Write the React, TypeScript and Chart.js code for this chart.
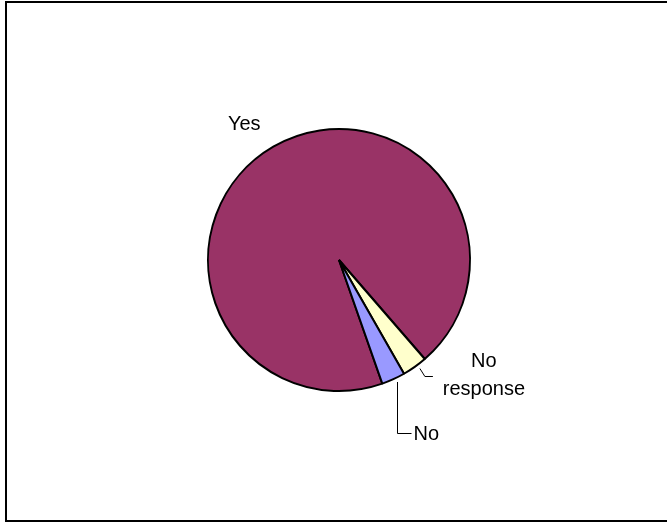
import React, { useEffect, useRef } from "react";
import { Chart, registerables } from "chart.js";

Chart.register(...registerables);

// Slices in clockwise drawing order
const categories = ["Yes", "No response", "No"];
const values = [94.0, 3.1, 2.9];
const sliceColors = ["#993366", "#FFFFCC", "#9999FF"];

const FONT = '20px "Liberation Sans", Arial, sans-serif';

const framePlugin = {
  id: "frame",
  beforeDraw(chart: any) {
    const ctx = chart.ctx;
    ctx.save();
    ctx.fillStyle = "#ffffff";
    ctx.fillRect(0, 0, chart.width, chart.height);
    ctx.strokeStyle = "#000000";
    ctx.lineWidth = 2;
    ctx.strokeRect(6, 2, 664, 519);
    ctx.restore();
  },
};

const labelPlugin = {
  id: "sliceLabels",
  afterDatasetsDraw(chart: any) {
    const ctx = chart.ctx;
    const meta = chart.getDatasetMeta(0);
    const labels = chart.data.labels as string[];
    ctx.save();
    ctx.font = FONT;
    ctx.fillStyle = "#000000";
    ctx.strokeStyle = "#000000";
    ctx.lineWidth = 1;
    meta.data.forEach((arc: any, i: number) => {
      const p = arc.getProps(["x", "y", "startAngle", "endAngle", "outerRadius"], true);
      const mid = (p.startAngle + p.endAngle) / 2;
      const r = p.outerRadius + 2;
      const ax = p.x + Math.cos(mid) * r;
      const ay = p.y + Math.sin(mid) * r;
      const name = labels[i];
      if (name === "Yes") {
        ctx.textAlign = "center";
        ctx.textBaseline = "middle";
        ctx.fillText(name, ax - 28, ay - 20);
      } else if (name === "No") {
        const lx = Math.round(ax + 3) + 0.5;
        const y0 = ay + 1;
        const y1 = Math.round(ay + 52) + 0.5;
        ctx.beginPath();
        ctx.moveTo(lx, y0);
        ctx.lineTo(lx, y1);
        ctx.lineTo(lx + 14, y1);
        ctx.stroke();
        ctx.textAlign = "left";
        ctx.textBaseline = "middle";
        ctx.fillText(name, lx + 16, y1 + 1);
      } else {
        const sx = ax + 4;
        const sy = ay;
        const yy = Math.round(ay + 7) + 0.5;
        ctx.beginPath();
        ctx.moveTo(sx, sy);
        ctx.lineTo(sx + 5, yy);
        ctx.lineTo(sx + 13, yy);
        ctx.stroke();
        ctx.textAlign = "center";
        ctx.textBaseline = "alphabetic";
        const parts = name.split(" ");
        ctx.fillText(parts[0], ax + 68, ay - 1.5);
        ctx.fillText(parts[1], ax + 68, ay + 26.5);
      }
    });
    ctx.restore();
  },
};

export default function App() {
  const canvasRef = useRef<HTMLCanvasElement | null>(null);

  useEffect(() => {
    const canvas = canvasRef.current;
    if (!canvas) return;
    const chart = new Chart(canvas, {
      type: "pie",
      data: {
        labels: categories,
        datasets: [
          {
            data: values,
            backgroundColor: sliceColors,
            borderColor: "#000000",
            borderWidth: 2,
          },
        ],
      },
      options: {
        responsive: false,
        animation: false,
        events: [],
        rotation: 160.7,
        layout: {
          padding: { left: 207, right: 196, top: 128, bottom: 130 },
        },
        plugins: {
          legend: { display: false },
          tooltip: { enabled: false },
        },
      },
      plugins: [framePlugin, labelPlugin],
    });
    return () => chart.destroy();
  }, []);

  return (
    <div style={{ position: "absolute", left: 0, top: 0, width: 667, height: 522 }}>
      <canvas ref={canvasRef} width={667} height={522} style={{ display: "block" }} />
    </div>
  );
}
